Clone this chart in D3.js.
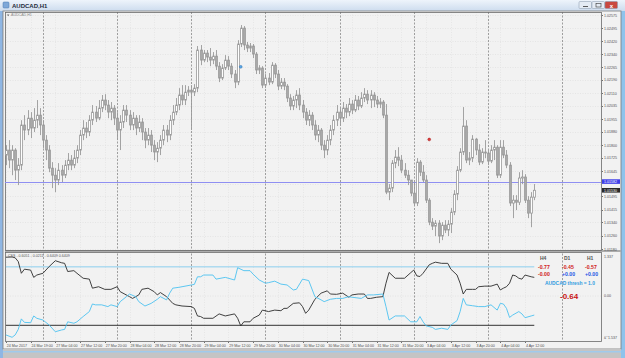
<!doctype HTML>
<html lang="en">
<head>
<title>AUDCAD,H1</title>
<script src="https://d3js.org/d3.v7.min.js"></script>
<style type="text/css">
  body { margin: 0; background: #cfd9e6; }
  svg { display: block; }
  text { font-family: "Liberation Sans", Arial, sans-serif; }
  .axis text { font-size: 3.6px; fill: #505050; }
  .axis line { stroke: #707070; shape-rendering: crispEdges; }
  .axis path { display: none; }
</style>
</head>
<body>
<script type="text/javascript">

// H1 candles, bar 0 = 24 Mar 2017 11:00 : [open, high, low, close]
var candles = [
 [1.01740,1.01799,1.01680,1.01770],[1.01770,1.01829,1.01662,1.01710],[1.01710,1.01799,1.01620,1.01770],
 [1.01770,1.01781,1.01591,1.01650],[1.01650,1.01722,1.01561,1.01680],[1.01680,1.01948,1.01650,1.01919],
 [1.01919,1.01978,1.01829,1.01889],[1.01889,1.02008,1.01859,1.01960],[1.01960,1.01996,1.01841,1.01901],
 [1.01901,1.02020,1.01877,1.01948],[1.01948,1.02068,1.01901,1.01978],[1.01978,1.02020,1.01859,1.01919],
 [1.01919,1.01948,1.01781,1.01829],[1.01829,1.01859,1.01710,1.01770],[1.01770,1.01799,1.01638,1.01662],
 [1.01662,1.01698,1.01543,1.01620],[1.01620,1.01662,1.01519,1.01591],[1.01591,1.01692,1.01561,1.01650],
 [1.01650,1.01680,1.01579,1.01620],[1.01620,1.01710,1.01603,1.01680],[1.01680,1.01752,1.01650,1.01710],
 [1.01710,1.01740,1.01650,1.01680],[1.01680,1.01770,1.01662,1.01722],[1.01722,1.01799,1.01692,1.01770],
 [1.01770,1.01889,1.01740,1.01859],[1.01859,1.01948,1.01829,1.01901],[1.01901,1.01937,1.01841,1.01877],
 [1.01877,1.01978,1.01853,1.01948],[1.01948,1.02038,1.01919,1.01996],[1.01996,1.02032,1.01937,1.01960],
 [1.01960,1.02068,1.01948,1.02020],[1.02020,1.02098,1.01996,1.02068],[1.02068,1.02103,1.02008,1.02038],
 [1.02038,1.02068,1.01960,1.01996],[1.01996,1.02056,1.01948,1.02020],[1.02020,1.02038,1.01919,1.01960],
 [1.01960,1.01996,1.01829,1.01889],[1.01889,1.01978,1.01770,1.01937],[1.01937,1.02038,1.01901,1.02008],
 [1.02008,1.02038,1.01937,1.01978],[1.01978,1.02008,1.01889,1.01919],[1.01919,1.01996,1.01889,1.01960],
 [1.01960,1.01978,1.01859,1.01901],[1.01901,1.01978,1.01877,1.01937],[1.01937,1.01960,1.01829,1.01877],
 [1.01877,1.01901,1.01781,1.01829],[1.01829,1.01901,1.01799,1.01859],[1.01859,1.01889,1.01758,1.01799],
 [1.01799,1.01829,1.01710,1.01758],[1.01758,1.01817,1.01698,1.01781],[1.01781,1.01859,1.01740,1.01829],
 [1.01829,1.01919,1.01799,1.01889],[1.01889,1.01919,1.01817,1.01859],[1.01859,1.01978,1.01829,1.01948],
 [1.01948,1.02038,1.01919,1.01996],[1.01996,1.02080,1.01978,1.02038],[1.02038,1.02139,1.02008,1.02098],
 [1.02098,1.02157,1.02038,1.02068],[1.02068,1.02157,1.02038,1.02115],[1.02115,1.02151,1.02092,1.02127],
 [1.02127,1.02157,1.01889,1.02115],[1.02115,1.02163,1.02092,1.02139],[1.02139,1.02390,1.02115,1.02366],
 [1.02366,1.02396,1.02276,1.02306],[1.02306,1.02366,1.02294,1.02348],[1.02348,1.02366,1.02294,1.02324],
 [1.02324,1.02378,1.02270,1.02306],[1.02306,1.02354,1.02282,1.02330],[1.02330,1.02366,1.02247,1.02270],
 [1.02270,1.02294,1.02175,1.02199],[1.02199,1.02282,1.02187,1.02259],[1.02259,1.02336,1.02247,1.02306],
 [1.02306,1.02330,1.02247,1.02270],[1.02270,1.02288,1.02199,1.02223],[1.02223,1.02247,1.02139,1.02175],
 [1.02175,1.02425,1.02157,1.02402],[1.02402,1.02515,1.02384,1.02497],[1.02497,1.02509,1.02366,1.02396],
 [1.02396,1.02414,1.02354,1.02378],[1.02378,1.02408,1.02354,1.02390],[1.02390,1.02402,1.02318,1.02342],
 [1.02342,1.02354,1.02223,1.02247],[1.02247,1.02276,1.02223,1.02259],[1.02259,1.02270,1.02139,1.02157],
 [1.02157,1.02223,1.02139,1.02199],[1.02199,1.02229,1.02157,1.02175],[1.02175,1.02294,1.02163,1.02276],
 [1.02276,1.02288,1.02199,1.02223],[1.02223,1.02247,1.02127,1.02151],[1.02151,1.02199,1.02133,1.02175],
 [1.02175,1.02199,1.02127,1.02151],[1.02151,1.02163,1.02056,1.02080],[1.02080,1.02103,1.02008,1.02032],
 [1.02032,1.02092,1.02008,1.02068],[1.02068,1.02127,1.02020,1.02098],[1.02098,1.02139,1.02008,1.02038],
 [1.02038,1.02068,1.01960,1.01996],[1.01996,1.02020,1.01919,1.01948],[1.01948,1.02008,1.01913,1.01978],
 [1.01978,1.01996,1.01889,1.01919],[1.01919,1.01948,1.01829,1.01859],[1.01859,1.01919,1.01817,1.01889],
 [1.01889,1.01901,1.01770,1.01799],[1.01799,1.01829,1.01722,1.01770],[1.01770,1.01859,1.01740,1.01829],
 [1.01829,1.01919,1.01799,1.01889],[1.01889,1.01978,1.01859,1.01948],[1.01948,1.02038,1.01913,1.01996],
 [1.01996,1.02020,1.01925,1.01960],[1.01960,1.02056,1.01937,1.02020],[1.02020,1.02044,1.01960,1.01996],
 [1.01996,1.02080,1.01972,1.02044],[1.02044,1.02068,1.01984,1.02008],[1.02008,1.02098,1.01996,1.02068],
 [1.02068,1.02092,1.02008,1.02032],[1.02032,1.02115,1.02020,1.02080],[1.02080,1.02139,1.02056,1.02103],
 [1.02103,1.02127,1.02044,1.02068],[1.02068,1.02127,1.02020,1.02098],[1.02098,1.02115,1.02026,1.02068],
 [1.02068,1.02092,1.02020,1.02044],[1.02044,1.02080,1.02020,1.02056],[1.02056,1.02068,1.01960,1.01978],
 [1.01978,1.02044,1.01507,1.01519],[1.01519,1.01567,1.01471,1.01543],[1.01543,1.01710,1.01519,1.01692],
 [1.01692,1.01770,1.01662,1.01728],[1.01728,1.01787,1.01674,1.01710],[1.01710,1.01740,1.01632,1.01650],
 [1.01650,1.01692,1.01603,1.01620],[1.01620,1.01650,1.01561,1.01591],[1.01591,1.01591,1.01495,1.01513],
 [1.01513,1.01579,1.01436,1.01454],[1.01454,1.01722,1.01436,1.01698],[1.01698,1.01710,1.01615,1.01638],
 [1.01638,1.01680,1.01579,1.01591],[1.01591,1.01620,1.01454,1.01471],[1.01471,1.01483,1.01322,1.01340],
 [1.01340,1.01364,1.01293,1.01316],[1.01316,1.01352,1.01257,1.01334],[1.01334,1.01352,1.01215,1.01257],
 [1.01257,1.01340,1.01233,1.01322],[1.01322,1.01352,1.01275,1.01293],[1.01293,1.01352,1.01257,1.01328],
 [1.01328,1.01424,1.01275,1.01400],[1.01400,1.01531,1.01382,1.01507],[1.01507,1.01674,1.01471,1.01650],
 [1.01650,1.01781,1.01638,1.01758],[1.01758,1.02026,1.01740,1.01913],[1.01913,1.01948,1.01692,1.01710],
 [1.01710,1.01758,1.01680,1.01722],[1.01722,1.01859,1.01698,1.01835],[1.01835,1.01841,1.01740,1.01770],
 [1.01770,1.01805,1.01680,1.01698],[1.01698,1.01781,1.01686,1.01758],[1.01758,1.01829,1.01722,1.01752],
 [1.01752,1.01770,1.01680,1.01704],[1.01704,1.01799,1.01692,1.01770],[1.01770,1.01829,1.01710,1.01787],
 [1.01787,1.01799,1.01603,1.01620],[1.01620,1.01829,1.01603,1.01787],[1.01787,1.01829,1.01722,1.01740],
 [1.01740,1.01770,1.01662,1.01680],[1.01680,1.01698,1.01436,1.01454],[1.01454,1.01501,1.01364,1.01471],
 [1.01471,1.01501,1.01412,1.01459],[1.01459,1.01638,1.01442,1.01603],[1.01603,1.01650,1.01567,1.01609],
 [1.01609,1.01626,1.01454,1.01471],[1.01471,1.01495,1.01364,1.01394],[1.01394,1.01519,1.01310,1.01489],
 [1.01489,1.01567,1.01471,1.01530]
];

// CSS indicator (sub window): bar index + value
var blackBars = [0,2,3,4,5,6,8,9,10,12,14,16,18,19,20,22,23,25,27,28,30,32,34,36,37,40,41,43,44,46,48,49,50,52,54,55,57,60,61,62,
  63,64,67,69,71,74,75,76,77,79,80,82,83,85,87,89,90,91,93,95,96,97,98,100,102,104,105,107,109,111,112,114,116,117,118,120,122,123,124,126,129,131,132,133,
  134,135,137,138,139,141,143,144,146,147,148,149,151,152,153,155,157,159,160,161,162,163,164,165,166,167,168,170,171];
var blackVals = [1.33,1.337,1.31,1.18,0.78,0.92,0.89,0.64,0.72,0.78,1.01,1.21,1.14,1.12,0.84,0.87,0.78,0.61,0.58,0.27,0.32,0.23,0.23,0.32,0.15,-0.02,-0.08,0.04,0.23,0.27,0.15,0.04,0.12,-0.02,-0.25,-0.30,-0.34,-0.36,-0.42,-0.68,
  -0.70,-0.76,-0.76,-0.61,-0.68,-0.61,-0.76,-1.02,-0.88,-0.88,-0.76,-0.65,-0.48,-0.53,-0.48,-0.50,-0.42,-0.42,-0.25,-0.23,-0.36,-0.59,-0.48,-0.11,0.10,0.18,0.07,0.06,0.10,-0.04,0.04,0.07,0.07,-0.08,-0.08,-0.04,-0.02,0.44,0.81,0.61,0.61,0.80,0.89,0.69,
  0.67,0.78,1.07,1.12,1.16,1.12,1.12,0.92,0.72,0.44,0.07,0.23,0.23,0.23,0.32,0.34,0.34,0.41,0.21,0.27,0.32,0.44,0.72,0.69,0.61,0.58,0.72,0.66,0.64];

var blueBars = [0,2,3,4,5,6,8,9,10,12,14,16,18,19,20,22,23,25,27,28,29,31,33,34,36,37,39,40,42,43,45,47,49,50,52,53,54,56,57,60,61,62,
  63,64,67,68,71,74,75,77,79,80,82,84,85,87,89,91,93,94,96,98,100,102,103,105,107,109,111,112,115,117,119,122,123,124,126,129,131,133,134,
  135,136,138,139,141,143,144,146,147,148,149,151,153,155,157,159,160,161,162,163,164,166,167,168,170,171];
var blueVals = [-1.33,-1.41,-1.33,-1.14,-0.78,-0.90,-0.91,-0.68,-0.76,-0.82,-0.99,-1.22,-1.16,-1.14,-0.88,-0.93,-0.88,-0.70,-0.53,-0.27,-0.30,-0.30,-0.36,-0.30,-0.36,-0.19,-0.02,0.07,-0.02,-0.19,-0.34,-0.25,-0.11,-0.02,-0.13,0.10,0.27,0.30,0.32,0.38,0.40,0.66,
  0.66,0.72,0.72,0.58,0.64,0.55,0.97,0.87,0.87,0.75,0.55,0.44,0.46,0.51,0.41,0.38,0.21,0.23,0.58,0.53,-0.02,-0.13,-0.19,-0.11,-0.08,-0.08,-0.02,-0.04,-0.08,0.04,0.04,0.07,-0.36,-0.82,-0.68,-0.68,-0.88,-0.88,-0.70,
  -0.88,-1.02,-1.07,-1.14,-1.10,-1.14,-0.99,-0.84,-0.53,-0.08,-0.30,-0.33,-0.36,-0.36,-0.30,-0.48,-0.25,-0.27,-0.42,-0.73,-0.65,-0.53,-0.61,-0.74,-0.68,-0.65];

var levels = [1.0, -1.0];

var priceTicks = [1.02575,1.02495,1.02420,1.02340,1.02265,1.02190,1.02110,1.02035,1.01955,1.01880,
                  1.01800,1.01725,1.01645,1.01570,1.01495,1.01415,1.01340,1.01260,1.01180];
var subTicks = [1.337, 0, -1.537];

var timeBars = [0,8,16,24,32,40,48,56,64,72,80,88,96,104,112,120,128,136,144,152,160,168];
var timeLabels = ["24 Mar 2017","24 Mar 19:00","27 Mar 04:00","27 Mar 12:00","27 Mar 20:00","28 Mar 04:00",
  "28 Mar 12:00","28 Mar 20:00","29 Mar 04:00","29 Mar 12:00","29 Mar 20:00","30 Mar 04:00","30 Mar 12:00",
  "30 Mar 20:00","31 Mar 04:00","31 Mar 12:00","31 Mar 20:00","3 Apr 04:00","3 Apr 12:00","3 Apr 20:00",
  "4 Apr 04:00","4 Apr 12:00"];
var dayBars = [12,36,60,84,108,132,156,180];

var linePrice = 1.01582;
var markerBars = [76, 137];
var markerPrices = [1.02266, 1.01833];
var markerColors = ["#5aa8e6", "#e03a3a"];

var tfNames = ["H4","D1","H1"];
var tfValues = ["-0.77","-0.45","-0.57"];
var tfChange = ["-0.00","+0.00","+0.00"];
var threshText = "AUDCAD thresh = 1.0";
var totalText = "-0.64";

// layout
var W = 625, H = 358;
var plotL = 5, plotR = 601;
var mainT = 12, mainB = 250, subT = 252, subB = 341;

var svg = d3.select("body").append("svg").attr("width", W).attr("height", H);

// window chrome
var defs = svg.append("defs");
var tg = defs.append("linearGradient").attr("id", "tb").attr("x1", 0).attr("y1", 0).attr("x2", 0).attr("y2", 1);
tg.append("stop").attr("offset", "0%").attr("stop-color", "#eef4fb");
tg.append("stop").attr("offset", "100%").attr("stop-color", "#cddcee");

svg.append("rect").attr("width", W).attr("height", H).attr("fill", "#cfdcec");
svg.append("rect").attr("width", W).attr("height", 11).attr("fill", "url(#tb)");
svg.append("rect").attr("x", 3).attr("y", 2).attr("width", 6).attr("height", 6).attr("rx", 1)
  .attr("fill", "#7fa8d8").attr("stroke", "#4b78b0").attr("stroke-width", 0.5);
svg.append("text").attr("x", 12).attr("y", 8).attr("font-size", "6px").attr("font-weight", "bold")
  .attr("fill", "#1e2a3a").text("AUDCAD,H1");

[[579, "#e4ebf4"], [592, "#e4ebf4"], [605, "#c9483f"]].forEach(function(b) {
  svg.append("rect").attr("x", b[0]).attr("y", 1.5).attr("width", 12.5).attr("height", 7).attr("rx", 1)
    .attr("fill", b[1]).attr("stroke", "#8797ab").attr("stroke-width", 0.5);
});
svg.append("line").attr("x1", 583).attr("x2", 588).attr("y1", 6.5).attr("y2", 6.5).attr("stroke", "#333").attr("stroke-width", 0.8);
svg.append("rect").attr("x", 596).attr("y", 3.5).attr("width", 5).attr("height", 3.5).attr("fill", "none").attr("stroke", "#333").attr("stroke-width", 0.6);
svg.append("text").attr("x", 611.3).attr("y", 7.6).attr("text-anchor", "middle").attr("font-size", "6px")
  .attr("font-weight", "bold").attr("fill", "#fff").text("x");

svg.append("rect").attr("x", 0).attr("y", 11).attr("width", 3).attr("height", H - 11).attr("fill", "#8fb6e3");
svg.append("rect").attr("x", 621).attr("y", 11).attr("width", 4).attr("height", H - 11).attr("fill", "#8fc3ec");
svg.append("rect").attr("x", 3).attr("y", 11).attr("width", 618).attr("height", 338).attr("fill", "#f2f2f2")
  .attr("stroke", "#7c7c7c").attr("stroke-width", 0.8);
svg.append("rect").attr("x", 3).attr("y", 349).attr("width", 618).attr("height", 9).attr("fill", "#c4c4c4");
svg.append("rect").attr("x", 3).attr("y", 351).attr("width", 618).attr("height", 1.5).attr("fill", "#9fcaec");

// scales
var x = d3.scaleLinear().domain([0, 180]).range([5.9, 562.1]);
var y = d3.scaleLinear().domain([1.01180, 1.02575]).range([249, 15]);
var ys = d3.scaleLinear().domain([-1.537, 1.337]).range([341, 257]);

// grid
var grid = svg.append("g");
grid.selectAll("line.h").data(priceTicks).enter().append("line")
  .attr("x1", plotL).attr("x2", plotR).attr("y1", function(d) { return Math.round(y(d)) + 0.5; })
  .attr("y2", function(d) { return Math.round(y(d)) + 0.5; })
  .attr("stroke", "#dcdcdc").attr("stroke-width", 0.6).attr("stroke-dasharray", "1,1.5");
grid.selectAll("line.v").data(timeBars).enter().append("line")
  .attr("x1", function(d) { return Math.round(x(d)) + 0.5; }).attr("x2", function(d) { return Math.round(x(d)) + 0.5; })
  .attr("y1", mainT).attr("y2", subB)
  .attr("stroke", "#dedede").attr("stroke-width", 0.6).attr("stroke-dasharray", "1,1.5");
grid.append("line").attr("x1", plotL).attr("x2", plotR).attr("y1", ys(0)).attr("y2", ys(0))
  .attr("stroke", "#dcdcdc").attr("stroke-width", 0.6).attr("stroke-dasharray", "1,1.5");

// period separators
grid.selectAll("line.sep").data(dayBars).enter().append("line")
  .attr("x1", function(d) { return Math.round(x(d)) + 0.5; }).attr("x2", function(d) { return Math.round(x(d)) + 0.5; })
  .attr("y1", mainT).attr("y2", subB)
  .attr("stroke", "#7a7a7a").attr("stroke-width", 0.7).attr("stroke-dasharray", "2,1.5");

// window separator and frames
svg.append("rect").attr("x", plotL).attr("y", mainB).attr("width", 616).attr("height", 2).attr("fill", "#acacac");
svg.append("rect").attr("x", plotL + 0.5).attr("y", mainT + 0.5).attr("width", plotR - plotL).attr("height", mainB - mainT)
  .attr("fill", "none").attr("stroke", "#6a6a6a").attr("stroke-width", 0.8);
svg.append("rect").attr("x", plotL + 0.5).attr("y", subT + 0.5).attr("width", plotR - plotL).attr("height", subB - subT)
  .attr("fill", "none").attr("stroke", "#6a6a6a").attr("stroke-width", 0.8);

// symbol label inside chart
svg.append("path").attr("d", "M7,14.5 L9.4,14.5 L8.2,16.3 Z").attr("fill", "#666");
svg.append("text").attr("x", 11).attr("y", 16.4).attr("font-size", "3.6px").attr("fill", "#8a8a8a").text("AUDCAD,H1");

// horizontal line object (under the candles)
var lineY = Math.round(y(linePrice)) + 0.5;
svg.append("line").attr("x1", plotL).attr("x2", plotR).attr("y1", lineY).attr("y2", lineY)
  .attr("stroke", "#8f8ff2").attr("stroke-width", 1);

// candles
var cg = svg.append("g");
cg.selectAll("line.wick").data(candles).enter().append("line")
  .attr("x1", function(d, i) { return Math.round(x(i)) + 0.5; })
  .attr("x2", function(d, i) { return Math.round(x(i)) + 0.5; })
  .attr("y1", function(d) { return y(d[1]); })
  .attr("y2", function(d) { return y(d[2]); })
  .attr("stroke", "#9a9a9a").attr("stroke-width", 0.9);
cg.selectAll("rect.body").data(candles).enter().append("rect")
  .attr("x", function(d, i) { return Math.round(x(i)) - 0.4; })
  .attr("width", 1.8)
  .attr("y", function(d) { return y(Math.max(d[0], d[3])); })
  .attr("height", function(d) { return Math.max(0.6, Math.abs(y(d[0]) - y(d[3]))); })
  .attr("fill", function(d) { return d[3] >= d[0] ? "#ffffff" : "#a9a9a9"; })
  .attr("stroke", "#9a9a9a").attr("stroke-width", 0.8);

// markers
svg.selectAll("circle.mk").data(markerBars).enter().append("circle")
  .attr("cx", function(d) { return x(d); })
  .attr("cy", function(d, i) { return y(markerPrices[i]); })
  .attr("r", 1.4)
  .attr("fill", function(d, i) { return markerColors[i]; })
  .attr("stroke", function(d, i) { return i === 0 ? "#2d6fb0" : "#a01818"; }).attr("stroke-width", 0.5);

// price axis (the grid label hidden under the price boxes is skipped)
var lastClose = candles[candles.length - 1][3];
var boxPrices = [linePrice, lastClose];
var shownTicks = priceTicks.filter(function(t) {
  return boxPrices.every(function(p) { return Math.abs(y(t) - y(p)) > 4.6; });
});
svg.append("g").attr("class", "axis").attr("transform", "translate(" + (plotR + 0.5) + ",0)")
  .call(d3.axisRight(y).tickValues(shownTicks).tickFormat(d3.format(".5f")).tickSize(1.5).tickPadding(1));

// price boxes
[[linePrice, "#3f3fe8"], [lastClose, "#2a2a2a"]].forEach(function(p) {
  svg.append("rect").attr("x", plotR + 1).attr("y", y(p[0]) - 2.3).attr("width", 18).attr("height", 4.6).attr("fill", p[1]);
  svg.append("text").attr("x", plotR + 3).attr("y", y(p[0]) + 1.3).attr("font-size", "3.6px")
    .attr("fill", "#fff").text(d3.format(".5f")(p[0]));
});

// sub window indicator
svg.append("text").attr("x", 8).attr("y", 256.5).attr("font-size", "3.6px").attr("fill", "#555")
  .text("CSS - 0.6051 - 0.0211 - 0.6409 0.6409");

svg.selectAll("line.lvl").data(levels).enter().append("line")
  .attr("x1", x(0)).attr("x2", x(candles.length - 1))
  .attr("y1", function(d) { return ys(d); }).attr("y2", function(d) { return ys(d); })
  .attr("stroke", function(d) { return d > 0 ? "#8ccfee" : "#333"; }).attr("stroke-width", 1);

var subLine = d3.line()
  .x(function(d) { return x(d[0]); })
  .y(function(d) { return ys(d[1]); });

svg.append("path").datum(d3.zip(blackBars, blackVals))
  .attr("fill", "none").attr("stroke", "#2c2c2c").attr("stroke-width", 0.9).attr("d", subLine);
svg.append("path").datum(d3.zip(blueBars, blueVals))
  .attr("fill", "none").attr("stroke", "#4cc2f0").attr("stroke-width", 0.9).attr("d", subLine);

svg.append("g").selectAll("text").data(subTicks).enter().append("text")
  .attr("x", plotR + 3)
  .attr("y", function(d) { return Math.max(254, Math.min(338, ys(d))) + 1.3; })
  .attr("font-size", "3.6px").attr("fill", "#505050")
  .text(function(d) { return d === 0 ? "0.00" : d3.format(".3f")(d); });

// strength panel
var colX = [538, 562, 585];
svg.selectAll("text.tf").data(tfNames).enter().append("text")
  .attr("x", function(d, i) { return colX[i] + 2; }).attr("y", 260)
  .attr("font-size", "5px").attr("font-weight", "bold").attr("fill", "#555").text(function(d) { return d; });
svg.selectAll("text.tv").data(tfValues).enter().append("text")
  .attr("x", function(d, i) { return colX[i]; }).attr("y", 268.5)
  .attr("font-size", "5.2px").attr("font-weight", "bold").attr("fill", "#d01818").text(function(d) { return d; });
svg.selectAll("text.tc").data(tfChange).enter().append("text")
  .attr("x", function(d, i) { return colX[i]; }).attr("y", 275.5)
  .attr("font-size", "5.2px").attr("font-weight", "bold")
  .attr("fill", function(d) { return d.charAt(0) === "-" ? "#d01818" : "#2456e6"; }).text(function(d) { return d; });
svg.append("text").attr("x", 545).attr("y", 285).attr("font-size", "4.9px").attr("font-weight", "bold")
  .attr("fill", "#2f9be0").text(threshText);
svg.append("text").attr("x", 560).attr("y", 298.5).attr("font-size", "8px").attr("font-weight", "bold")
  .attr("fill", "#c81414").text(totalText);

// time axis
svg.append("g").attr("class", "axis").attr("transform", "translate(0," + (subB + 0.5) + ")")
  .call(d3.axisBottom(x).tickValues(timeBars).tickSize(1.5).tickPadding(1.5)
    .tickFormat(function(d, i) { return timeLabels[i]; }))
  .selectAll("text").attr("text-anchor", "start").attr("dx", "0.4");

</script>
</body>
</html>
